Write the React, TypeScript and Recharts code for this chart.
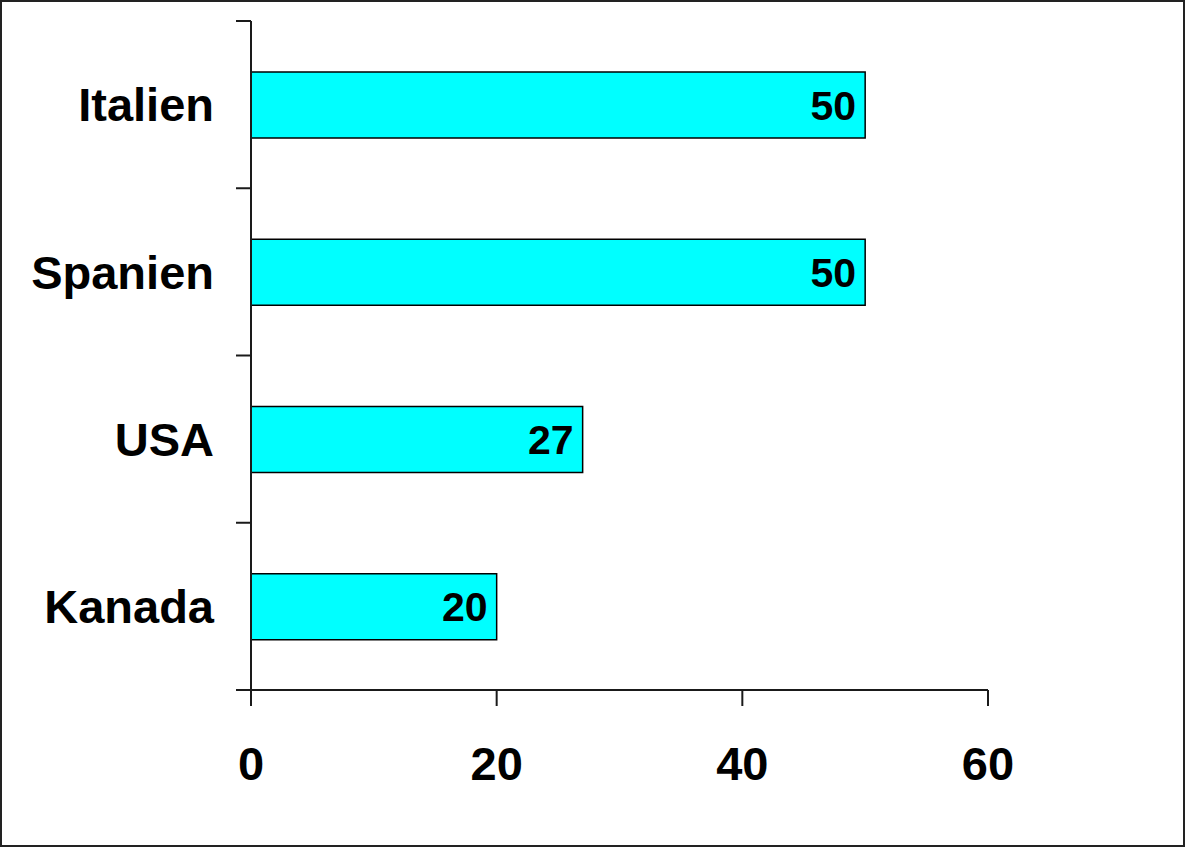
import React from "react";
import { BarChart, Bar, XAxis, YAxis, LabelList } from "recharts";

const countries = ["Italien", "Spanien", "USA", "Kanada"];
const values = [50, 50, 27, 20];
const xTicks = [0, 20, 40, 60];

const data = countries.map((name, i) => ({ name, value: values[i] }));

const font = "'Liberation Sans', Arial, sans-serif";

const W = 1185;
const H = 847;
const margin = { top: 21, right: 197, bottom: 97, left: 0 };
const xAxisHeight = 60;
const yAxisWidth = 251;
const plotHeight = H - margin.top - margin.bottom - xAxisHeight;
const step = plotHeight / countries.length;
const labelGap = 37;
const edgeTick = 15;

// category label plus tick marks at the band edges (not band centres)
function CategoryTick(props: any) {
  const { x, y, payload, index } = props;
  const axisX = x + labelGap;
  return (
    <g>
      <line
        x1={axisX - edgeTick}
        x2={axisX}
        y1={y - step / 2}
        y2={y - step / 2}
        stroke="#1a1a1a"
        strokeWidth={2}
      />
      {index === countries.length - 1 && (
        <line
          x1={axisX - edgeTick}
          x2={axisX}
          y1={y + step / 2}
          y2={y + step / 2}
          stroke="#1a1a1a"
          strokeWidth={2}
        />
      )}
      <text
        x={x}
        y={y}
        dy="0.355em"
        textAnchor="end"
        fill="#000"
        fontSize={47}
        fontWeight="bold"
        fontFamily={font}
      >
        {payload.value}
      </text>
    </g>
  );
}

export default function App() {
  return (
    <div
      style={{
        position: "absolute",
        left: 0,
        top: 0,
        width: W,
        height: H,
        background: "#fff",
        fontFamily: font,
      }}
    >
      <BarChart
        width={W}
        height={H}
        data={data}
        layout="vertical"
        margin={margin}
        barSize={66}
      >
        <XAxis
          type="number"
          domain={[0, 60]}
          ticks={xTicks}
          height={xAxisHeight}
          tickSize={16}
          tickMargin={41}
          stroke="#1a1a1a"
          strokeWidth={2}
          tick={{ fill: "#000", fontSize: 47, fontWeight: "bold", fontFamily: font }}
        />
        <YAxis
          type="category"
          dataKey="name"
          width={yAxisWidth}
          tickSize={0}
          tickMargin={labelGap}
          tickLine={false}
          stroke="#1a1a1a"
          strokeWidth={2}
          tick={<CategoryTick />}
        />
        <Bar
          dataKey="value"
          fill="#00FFFF"
          stroke="#000"
          strokeWidth={1.5}
          isAnimationActive={false}
        >
          <LabelList
            dataKey="value"
            position="insideRight"
            offset={9}
            fill="#000"
            fontSize={41}
            fontWeight="bold"
            fontFamily={font}
          />
        </Bar>
      </BarChart>
      <div
        style={{
          position: "absolute",
          left: 0,
          top: 0,
          width: W,
          height: H,
          boxSizing: "border-box",
          border: "2px solid #222",
          pointerEvents: "none",
        }}
      />
    </div>
  );
}
